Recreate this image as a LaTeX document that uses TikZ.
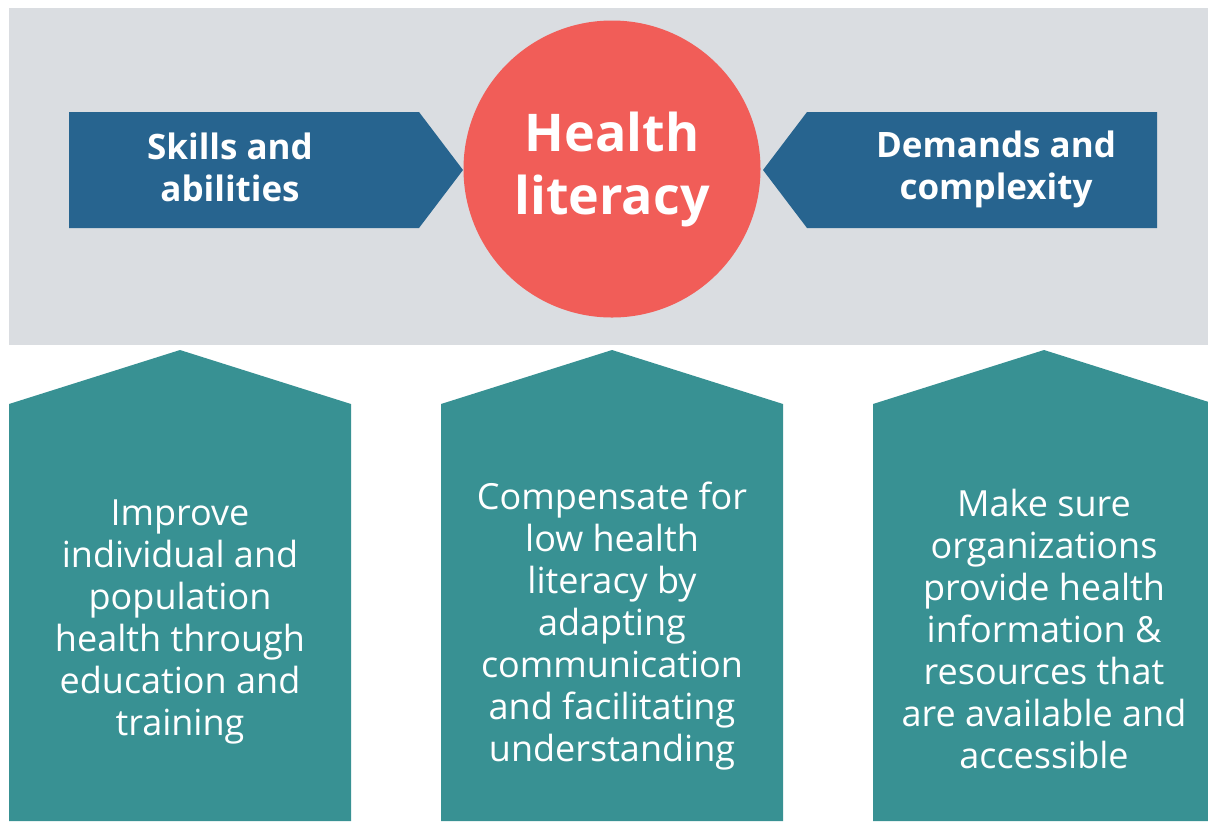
\documentclass[tikz,border=0pt]{standalone}
\usepackage{fontspec}
\setmainfont{Open Sans}
\definecolor{bggray}{HTML}{DADDE1}
\definecolor{hlblue}{HTML}{27648F}
\definecolor{hlred}{HTML}{F15D58}
\definecolor{hlteal}{HTML}{389193}

\begin{document}
\begin{tikzpicture}[x=0.5pt, y=-0.5pt,
  tag/.style={text=white, font=\bfseries\fontsize{17.5}{21}\selectfont, align=center},
  body/.style={text=white, font=\fontsize{18}{21}\selectfont, align=center}]
  \useasboundingbox (0,0) rectangle (1208,821);
  \clip (0,0) rectangle (1208,821);
  \fill[bggray] (9,8) rectangle (1208,345);
  % the two blue arrows
  \fill[hlblue] (69,112) -- (419,112) -- (463,170) -- (419,228) -- (69,228) -- cycle;
  \fill[hlblue] (1157,112) -- (807,112) -- (763,170) -- (807,228) -- (1157,228) -- cycle;
  \node[tag] (skills) at (230,167) {Skills and\\abilities};
  \node[tag] (demands) at (996,169) {Demands and\\complexity};
  \node[circle, fill=hlred, minimum size=148.5pt, inner sep=0pt, text=white,
    font=\bfseries\fontsize{26}{31.5}\selectfont, align=center] (hl) at (612,169) {Health\\literacy};
  % the three teal boxes
  \foreach \cx/\cy/\name/\txt in {
    180/622/improve/{Improve\\individual and\\population\\health through\\education and\\training},
    612/626/compensate/{Compensate for\\low health\\literacy by\\adapting\\communication\\and facilitating\\understanding},
    1044/629/ensure/{Make sure\\organizations\\provide health\\information \&\\resources that\\are available and\\accessible}} {
    \fill[hlteal] (\cx-171,821) -- (\cx-171,404) -- (\cx,350) -- (\cx+171,404) -- (\cx+171,821) -- cycle;
    \node[body] (\name) at (\cx,\cy) {\txt};
  }
\end{tikzpicture}
\end{document}
